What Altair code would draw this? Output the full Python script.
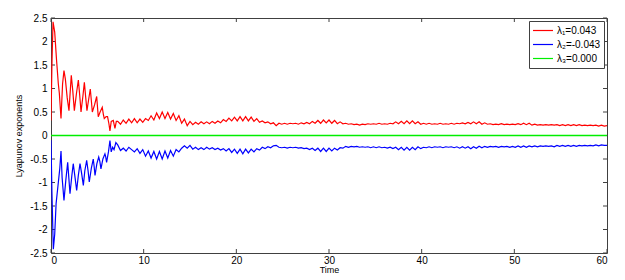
import altair as alt
import pandas as pd

# ---- data ----
NAMES = ["λ₁=0.043", "λ₂=-0.043", "λ₃=0.000"]
COLORS = ["#ff0000", "#0000ff", "#00ee00"]

EARLY_T_RED = [0.0, 0.1, 0.22, 0.4, 0.6, 0.79, 0.9, 1.08, 1.25, 1.4,
               1.55, 1.75, 1.94, 2.19, 2.35, 2.52, 2.75, 2.95, 3.1, 3.24,
               3.45, 3.6, 3.75, 3.88, 4.05, 4.24, 4.35, 4.46, 4.7, 4.93,
               5.02, 5.1, 5.3, 5.53, 5.65, 5.75, 5.95, 6.1, 6.25, 6.36,
               6.5, 6.72, 6.9, 7.05]
EARLY_RED = [0.32, 1.5, 2.42, 2.2, 1.6, 1.1, 0.9, 0.36, 1.1, 1.38,
             1.2, 0.8, 0.53, 1.28, 0.95, 0.53, 0.9, 1.18, 0.85, 0.5,
             0.85, 1.13, 0.8, 0.53, 0.75, 0.99, 0.75, 0.5, 0.65, 0.83,
             0.6, 0.4, 0.5, 0.6, 0.45, 0.36, 0.4, 0.40, 0.25, 0.1,
             0.3, 0.32, 0.15, 0.3]

EARLY_T_BLUE = [0.0, 0.1, 0.25, 0.4, 0.55, 0.79, 0.95, 1.08, 1.2, 1.4,
                1.6, 1.8, 2.05, 2.25, 2.4, 2.6, 2.77, 2.95, 3.13, 3.3,
                3.49, 3.65, 3.85, 4.0, 4.13, 4.35, 4.56, 4.65, 4.75, 4.95,
                5.15, 5.27, 5.39, 5.6, 5.82, 5.9, 6.0, 6.2, 6.36, 6.5,
                6.65, 6.8, 7.0]
EARLY_BLUE = [-0.1, -1.2, -2.42, -2.1, -1.45, -1.0, -0.7, -0.33, -0.9, -1.38,
              -0.95, -0.57, -1.24, -0.85, -0.6, -0.9, -1.17, -0.85, -0.6, -0.8,
              -1.06, -0.75, -0.53, -0.75, -0.99, -0.7, -0.5, -0.65, -0.85, -0.6,
              -0.46, -0.55, -0.71, -0.5, -0.39, -0.45, -0.57, -0.35, -0.11, -0.35,
              -0.25, -0.3, -0.15]

LATE_T = [7.2, 7.5, 7.8, 8.1, 8.4, 8.7, 9.0, 9.3, 9.6, 9.9,
          10.2, 10.5, 10.8, 11.1, 11.4, 11.7, 12.0, 12.3, 12.6, 12.9,
          13.2, 13.5, 13.8, 14.1, 14.4, 14.7, 15.0, 15.3, 15.6, 15.9,
          16.2, 16.5, 16.8, 17.1, 17.4, 17.7, 18.0, 18.3, 18.6, 18.9,
          19.2, 19.5, 19.8, 20.1, 20.4, 20.7, 21.0, 21.3, 21.6, 21.9,
          22.2, 22.5, 22.8, 23.1, 23.4, 23.7, 24.0, 24.3, 24.6, 24.9,
          25.2, 25.5, 25.8, 26.1, 26.4, 26.7, 27.0, 27.3, 27.6, 27.9,
          28.2, 28.5, 28.8, 29.1, 29.4, 29.7, 30.0, 30.3, 30.6, 30.9,
          31.2, 31.5, 31.8, 32.1, 32.4, 32.7, 33.0, 33.3, 33.6, 33.9,
          34.2, 34.5, 34.8, 35.1, 35.4, 35.7, 36.0, 36.3, 36.6, 36.9,
          37.2, 37.5, 37.8, 38.1, 38.4, 38.7, 39.0, 39.3, 39.6, 39.9,
          40.2, 40.5, 40.8, 41.1, 41.4, 41.7, 42.0, 42.3, 42.6, 42.9,
          43.2, 43.5, 43.8, 44.1, 44.4, 44.7, 45.0, 45.3, 45.6, 45.9,
          46.2, 46.5, 46.8, 47.1, 47.4, 47.7, 48.0, 48.3, 48.6, 48.9,
          49.2, 49.5, 49.8, 50.1, 50.4, 50.7, 51.0, 51.3, 51.6, 51.9,
          52.2, 52.5, 52.8, 53.1, 53.4, 53.7, 54.0, 54.3, 54.6, 54.9,
          55.2, 55.5, 55.8, 56.1, 56.4, 56.7, 57.0, 57.3, 57.6, 57.9,
          58.2, 58.5, 58.8, 59.1, 59.4, 59.7, 60.0]

LATE_RED = [0.30, 0.24, 0.33, 0.26, 0.35, 0.27, 0.36, 0.27, 0.35, 0.28,
            0.36, 0.32, 0.42, 0.33, 0.48, 0.36, 0.50, 0.36, 0.49, 0.35,
            0.47, 0.32, 0.42, 0.26, 0.35, 0.21, 0.30, 0.23, 0.28, 0.24,
            0.29, 0.25, 0.29, 0.25, 0.30, 0.26, 0.31, 0.27, 0.34, 0.30,
            0.37, 0.31, 0.39, 0.31, 0.40, 0.31, 0.40, 0.31, 0.39, 0.30,
            0.36, 0.28, 0.31, 0.27, 0.29, 0.25, 0.27, 0.21, 0.26, 0.24,
            0.26, 0.24, 0.26, 0.25, 0.26, 0.24, 0.27, 0.25, 0.28, 0.25,
            0.30, 0.26, 0.32, 0.26, 0.33, 0.27, 0.33, 0.26, 0.32, 0.25,
            0.29, 0.25, 0.26, 0.24, 0.25, 0.23, 0.24, 0.22, 0.24, 0.23,
            0.25, 0.24, 0.25, 0.24, 0.26, 0.24, 0.25, 0.24, 0.26, 0.25,
            0.29, 0.25, 0.30, 0.25, 0.31, 0.25, 0.31, 0.25, 0.29, 0.24,
            0.26, 0.24, 0.26, 0.24, 0.25, 0.24, 0.26, 0.24, 0.25, 0.24,
            0.26, 0.24, 0.26, 0.25, 0.27, 0.25, 0.28, 0.25, 0.29, 0.25,
            0.29, 0.24, 0.27, 0.24, 0.25, 0.23, 0.24, 0.23, 0.25, 0.23,
            0.24, 0.23, 0.24, 0.23, 0.25, 0.23, 0.26, 0.23, 0.26, 0.22,
            0.24, 0.22, 0.23, 0.22, 0.23, 0.22, 0.23, 0.22, 0.23, 0.21,
            0.23, 0.21, 0.23, 0.21, 0.23, 0.21, 0.23, 0.21, 0.22, 0.21,
            0.22, 0.21, 0.22, 0.20, 0.22, 0.20, 0.21]

LATE_BLUE = [-0.20, -0.32, -0.27, -0.33, -0.25, -0.30, -0.35, -0.28, -0.38, -0.30,
             -0.44, -0.33, -0.48, -0.34, -0.50, -0.34, -0.50, -0.33, -0.48, -0.32,
             -0.44, -0.30, -0.35, -0.27, -0.22, -0.27, -0.21, -0.29, -0.25, -0.30,
             -0.26, -0.30, -0.25, -0.29, -0.26, -0.30, -0.27, -0.31, -0.28, -0.33,
             -0.28, -0.36, -0.29, -0.38, -0.29, -0.39, -0.29, -0.37, -0.29, -0.35,
             -0.28, -0.31, -0.25, -0.28, -0.24, -0.26, -0.22, -0.21, -0.25, -0.26,
             -0.25, -0.27, -0.25, -0.26, -0.25, -0.27, -0.26, -0.28, -0.27, -0.30,
             -0.27, -0.32, -0.27, -0.34, -0.27, -0.34, -0.27, -0.33, -0.27, -0.31,
             -0.26, -0.27, -0.23, -0.25, -0.23, -0.24, -0.23, -0.25, -0.24, -0.25,
             -0.24, -0.26, -0.24, -0.26, -0.24, -0.26, -0.25, -0.27, -0.25, -0.28,
             -0.25, -0.30, -0.25, -0.31, -0.25, -0.31, -0.25, -0.30, -0.24, -0.28,
             -0.25, -0.26, -0.24, -0.26, -0.24, -0.25, -0.24, -0.26, -0.24, -0.25,
             -0.24, -0.26, -0.24, -0.27, -0.24, -0.27, -0.24, -0.28, -0.24, -0.27,
             -0.23, -0.26, -0.23, -0.25, -0.23, -0.24, -0.23, -0.25, -0.23, -0.24,
             -0.23, -0.25, -0.23, -0.25, -0.22, -0.25, -0.22, -0.25, -0.22, -0.24,
             -0.22, -0.24, -0.22, -0.23, -0.22, -0.23, -0.22, -0.24, -0.21, -0.23,
             -0.21, -0.23, -0.21, -0.23, -0.21, -0.23, -0.21, -0.22, -0.21, -0.22,
             -0.21, -0.22, -0.20, -0.22, -0.20, -0.21, -0.21]

GREEN_T = [0.0, 60.0]
GREEN = [0.0, 0.0]

X_TICKS = [0, 10, 20, 30, 40, 50, 60]
Y_TICKS = [-2.5, -2, -1.5, -1, -0.5, 0, 0.5, 1, 1.5, 2, 2.5]

# ---- build table ----
rows = []
for t, v in zip(GREEN_T, GREEN):
    rows.append({"t": t, "v": v, "s": NAMES[2]})
for t, v in zip(EARLY_T_RED + LATE_T, EARLY_RED + LATE_RED):
    rows.append({"t": t, "v": v, "s": NAMES[0]})
for t, v in zip(EARLY_T_BLUE + LATE_T, EARLY_BLUE + LATE_BLUE):
    rows.append({"t": t, "v": v, "s": NAMES[1]})
df = pd.DataFrame(rows)
gdf = pd.DataFrame({"t": [GREEN_T[0]], "t2": [GREEN_T[1]], "v": [GREEN[0]]})

W, H = 556, 235
FONT = "Liberation Sans"
AX = "#404040"

xscale = alt.Scale(domain=[0, 60], nice=False, zero=False)
yscale = alt.Scale(domain=[-2.5, 2.5], nice=False, zero=False)
cscale = alt.Scale(domain=NAMES, range=COLORS)

AXIS_X = alt.Axis(values=X_TICKS, title="Time", labelExpr="'' + datum.value",
                  ticks=False, domain=False, grid=False, labelPadding=2,
                  titlePadding=0, labelFontSize=10, titleFontSize=9,
                  labelOverlap=False, labelBound=False,
                  labelFont=FONT, titleFont=FONT, titleFontWeight="normal",
                  labelColor="#000", titleColor="#000")
AXIS_Y = alt.Axis(values=Y_TICKS, title="Lyapunov exponents", labelExpr="'' + datum.value",
                  ticks=False, domain=False, grid=False, labelPadding=4,
                  titlePadding=6, labelFontSize=10, titleFontSize=9,
                  labelOverlap=False, labelBound=False,
                  labelFont=FONT, titleFont=FONT, titleFontWeight="normal",
                  labelColor="#000", titleColor="#000")

lines = alt.Chart(df).mark_line(strokeWidth=1.2, clip=True).encode(
    x=alt.X("t:Q", scale=xscale, axis=AXIS_X),
    y=alt.Y("v:Q", scale=yscale, axis=AXIS_Y),
    color=alt.Color("s:N", scale=cscale,
                    legend=alt.Legend(orient="none", legendX=478, legendY=3, title=None,
                                      symbolType="stroke", symbolSize=400,
                                      symbolStrokeWidth=1.2, labelFontSize=10,
                                      labelFont=FONT, labelColor="#000",
                                      clipHeight=13, padding=3, rowPadding=1,
                                      labelOffset=3,
                                      strokeColor=AX, fillColor="white")),
    detail="s:N",
    order=alt.Order("t:Q"),
)

green = alt.Chart(gdf).mark_rule(color=COLORS[2], strokeWidth=1.6).encode(
    x=alt.X("t:Q", scale=xscale, axis=AXIS_X), x2="t2:Q",
    y=alt.Y("v:Q", scale=yscale, axis=AXIS_Y))

xt = pd.DataFrame({"v": X_TICKS})
yt = pd.DataFrame({"v": [v for v in Y_TICKS if v != 0]})

xb = alt.Chart(xt).mark_rule(color=AX, strokeWidth=1).encode(
    x=alt.X("v:Q", scale=xscale, axis=AXIS_X), y=alt.value(H), y2=alt.value(H - 4))
xtop = alt.Chart(xt).mark_rule(color=AX, strokeWidth=1).encode(
    x=alt.X("v:Q", scale=xscale, axis=AXIS_X), y=alt.value(0), y2=alt.value(4))
yl = alt.Chart(yt).mark_rule(color=AX, strokeWidth=1).encode(
    y=alt.Y("v:Q", scale=yscale, axis=AXIS_Y), x=alt.value(0), x2=alt.value(4))
yr = alt.Chart(yt).mark_rule(color=AX, strokeWidth=1).encode(
    y=alt.Y("v:Q", scale=yscale, axis=AXIS_Y), x=alt.value(W), x2=alt.value(W - 4))

chart = alt.layer(xb, xtop, yl, yr, lines, green).properties(
    width=W, height=H,
    autosize=alt.AutoSizeParams(type="none"),
    padding={"left": 43, "top": 10, "right": 10, "bottom": 26},
).configure_view(stroke=AX, strokeWidth=1)

chart.save("out.html", embed_options={"renderer": "svg", "actions": False})
